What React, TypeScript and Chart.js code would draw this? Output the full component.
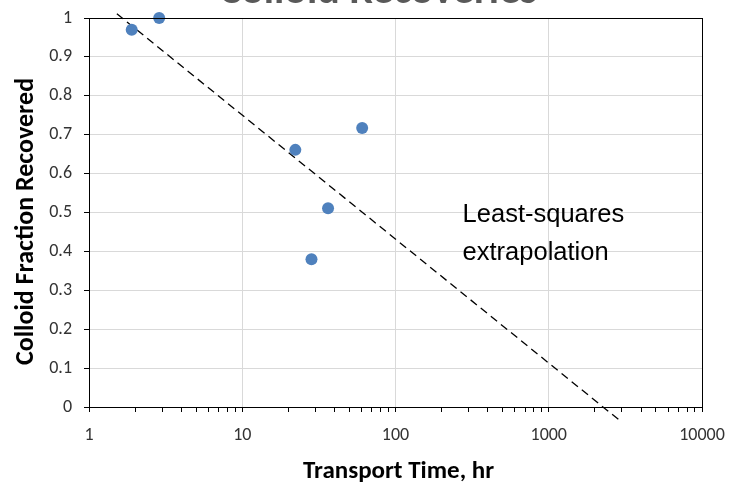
import React, { useEffect, useRef } from "react";
import { Chart, registerables } from "chart.js";

Chart.register(...registerables);

// Measured data (transport time in hours, colloid fraction recovered)
const transportTime = [1.9, 2.87, 22.2, 28.3, 36.3, 60.6];
const fractionRecovered = [0.97, 1.0, 0.661, 0.38, 0.511, 0.717];

// Least-squares extrapolation line endpoints
const trendTime = [1.52, 2870];
const trendFraction = [1.011, -0.033];

const xTickValues = [
  1, 2, 3, 4, 5, 6, 7, 8, 9,
  10, 20, 30, 40, 50, 60, 70, 80, 90,
  100, 200, 300, 400, 500, 600, 700, 800, 900,
  1000, 2000, 3000, 4000, 5000, 6000, 7000, 8000, 9000,
  10000,
];

const chartTitle = "Colloid Recoveries";
const xTitle = "Transport Time, hr";
const yTitle = "Colloid Fraction Recovered";
const noteLines = ["Least-squares", "extrapolation"];
const noteX = 274;
const noteY = [0.4755, 0.3777];

const FONT = "Carlito, Calibri, Lato, sans-serif";

const isDecade = (v: number) => {
  const l = Math.log10(v);
  return Math.abs(l - Math.round(l)) < 1e-9;
};

const framePlugin = {
  id: "frameAndText",
  afterDraw(chart: any) {
    const { ctx, chartArea, scales } = chart;
    ctx.save();
    ctx.strokeStyle = "#000";
    ctx.lineWidth = 1;
    ctx.strokeRect(
      Math.round(chartArea.left) + 0.5,
      Math.round(chartArea.top) + 0.5,
      Math.round(chartArea.right - chartArea.left),
      Math.round(chartArea.bottom - chartArea.top)
    );
    // chart title (partly cut off at top)
    ctx.fillStyle = "#595959";
    ctx.font = `bold 42px ${FONT}`;
    ctx.textAlign = "center";
    ctx.textBaseline = "alphabetic";
    ctx.fillText(chartTitle, 378, 3);
    // axis titles
    ctx.fillStyle = "#000";
    ctx.font = `bold 25px ${FONT}`;
    ctx.fillText(xTitle, (chartArea.left + chartArea.right) / 2 + 3, 478);
    ctx.save();
    ctx.font = `bold 26px ${FONT}`;
    ctx.translate(33, (chartArea.top + chartArea.bottom) / 2 + 9);
    ctx.rotate(-Math.PI / 2);
    ctx.fillText(yTitle, 0, 0);
    ctx.restore();
    // annotation
    ctx.fillStyle = "#000";
    ctx.font = `25.5px "Liberation Sans", Arial, sans-serif`;
    ctx.textAlign = "left";
    ctx.textBaseline = "alphabetic";
    noteLines.forEach((t, i) => {
      ctx.fillText(t, scales.x.getPixelForValue(noteX), scales.y.getPixelForValue(noteY[i]));
    });
    ctx.restore();
  },
};

export default function App() {
  const ref = useRef<HTMLCanvasElement | null>(null);
  useEffect(() => {
    document.body.style.margin = "0";
    const canvas = ref.current!;
    const chart = new Chart(canvas, {
      type: "scatter",
      data: {
        datasets: [
          {
            label: "Recovered",
            data: transportTime.map((x, i) => ({ x, y: fractionRecovered[i] })),
            backgroundColor: "#4F81BD",
            borderColor: "#4F81BD",
            pointRadius: 6,
            pointBorderWidth: 0,
            clip: false as any,
          },
          {
            label: "Least-squares",
            data: trendTime.map((x, i) => ({ x, y: trendFraction[i] })),
            showLine: true,
            borderColor: "#000",
            borderWidth: 1.3,
            borderDash: [8, 5],
            pointRadius: 0,
            clip: false as any,
          },
        ],
      },
      options: {
        animation: false,
        responsive: false,
        devicePixelRatio: 1,
        layout: { padding: { top: 18, right: 28, left: 0, bottom: 0 } },
        plugins: { legend: { display: false }, tooltip: { enabled: false }, title: { display: false } },
        scales: {
          x: {
            type: "logarithmic",
            min: 1,
            max: 10000,
            afterBuildTicks: (scale: any) => {
              scale.ticks = xTickValues.map((v) => ({ value: v }));
            },
            afterFit: (scale: any) => {
              scale.height = 75;
              scale.paddingLeft = 0;
              scale.paddingRight = 0;
            },
            border: { color: "#000", width: 1 },
            grid: {
              color: (ctx: any) => (ctx.tick && isDecade(ctx.tick.value) ? "#d9d9d9" : "rgba(0,0,0,0)"),
              tickColor: "#000",
              tickLength: 5,
              lineWidth: 1,
            },
            ticks: {
              autoSkip: false,
              maxRotation: 0,
              padding: 13,
              color: "#333333",
              font: { family: FONT, size: 18 },
              callback: (v: any) => (isDecade(Number(v)) ? String(v) : ""),
            },
          },
          y: {
            type: "linear",
            min: 0,
            max: 1,
            afterFit: (scale: any) => {
              scale.width = 89;
              scale.paddingTop = 0;
              scale.paddingBottom = 0;
            },
            border: { color: "#000", width: 1 },
            grid: { color: "#d9d9d9", tickColor: "#000", tickLength: 5, lineWidth: 1 },
            ticks: {
              stepSize: 0.1,
              padding: 12,
              color: "#333333",
              font: { family: FONT, size: 18 },
              callback: (v: any) => String(Math.round(Number(v) * 10) / 10),
            },
          },
        },
      },
      plugins: [framePlugin],
    });
    return () => chart.destroy();
  }, []);
  return (
    <div style={{ position: "relative", width: 730, height: 482 }}>
      <canvas ref={ref} width={730} height={482} style={{ display: "block" }} />
    </div>
  );
}
